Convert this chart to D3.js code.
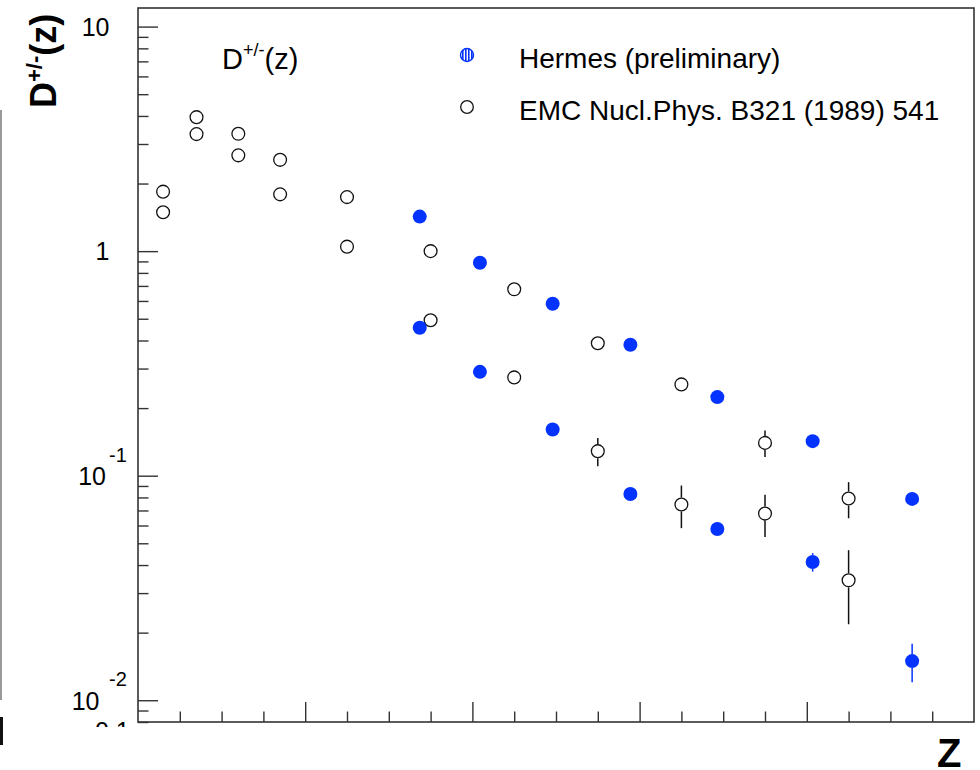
<!DOCTYPE html>
<html>
<head>
<meta charset="utf-8">
<script src="https://cdn.jsdelivr.net/npm/d3@7"></script>
<style>
  html, body { margin: 0; padding: 0; background: #fff; }
  svg { display: block; font-family: "Liberation Sans", Arial, Helvetica, sans-serif; }
</style>
</head>
<body>
<svg id="chart" width="980" height="770"></svg>
<script>
// ---------------- data ----------------
const zEMC      = [0.03, 0.07, 0.12, 0.17, 0.25, 0.35, 0.45, 0.55, 0.65, 0.75, 0.85];
const emcUpper  = [1.84, 3.95, 3.33, 2.55, 1.74, 1.00, 0.676, 0.389, 0.255, 0.140, 0.0791];
const emcUpperErr = [0, 0, 0, 0, 0, 0, 0, 0, 0.008, 0.019, 0.0145];
const emcLower  = [1.49, 3.32, 2.67, 1.79, 1.047, 0.492, 0.274, 0.1286, 0.0744, 0.0678, 0.0342];
const emcLowerErr = [0, 0, 0, 0, 0, 0, 0.008, 0.0185, 0.016, 0.0145, 0.0124];

const zHermes      = [0.337, 0.409, 0.496, 0.589, 0.693, 0.807, 0.926];
const hermesUpper  = [1.425, 0.888, 0.583, 0.383, 0.2239, 0.1425, 0.0788];
const hermesUpperErr = [0, 0, 0, 0, 0, 0, 0];
const hermesLower  = [0.456, 0.290, 0.1607, 0.0829, 0.0579, 0.0413, 0.01494];
const hermesLowerErr = [0, 0, 0, 0, 0, 0.0039, 0.0029];

const yMajorTicks = [0.01, 0.1, 1, 10];
const yTickLabels = [
  {v: 10,   base: "10", exp: null},
  {v: 1,    base: "1",  exp: null},
  {v: 0.1,  base: "10", exp: "-1"},
  {v: 0.01, base: "10", exp: "-2"}
];
const xMajorTicks = [0.2, 0.4, 0.6, 0.8];
const xMinorTicks = [0.05, 0.1, 0.15, 0.25, 0.3, 0.35, 0.45, 0.5, 0.55, 0.65, 0.7, 0.75, 0.85, 0.9, 0.95];

const legendEntries = [
  {label: "Hermes (preliminary)", kind: "hermes"},
  {label: "EMC Nucl.Phys. B321 (1989) 541", kind: "emc"}
];

// ---------------- layout ----------------
const L = 138, R = 974, T = 8, B = 722;
const BLUE = "#0433ff";
const svg = d3.select("#chart");

const x = d3.scaleLinear().domain([0, 1]).range([L, R]);
const y = d3.scaleLog().domain([0.008, 12.1]).range([B, T]);

// left-edge artifacts of neighbouring panel
svg.append("line").attr("x1", 1).attr("x2", 1).attr("y1", 110).attr("y2", 700)
  .attr("stroke", "#777").attr("stroke-width", 1.5);
svg.append("rect").attr("x", 0).attr("y", 717).attr("width", 3).attr("height", 28).attr("fill", "#111");

// clipped partial label at bottom-left
svg.append("clipPath").attr("id", "clipBottom")
  .append("rect").attr("x", 0).attr("y", 0).attr("width", 980).attr("height", 727);
svg.append("text").attr("x", 95).attr("y", 740).attr("font-size", 25).attr("fill", "#000")
  .attr("clip-path", "url(#clipBottom)").text("0.1");

// ---------------- axes ----------------
const yMinor = y.ticks().filter(v => !yMajorTicks.some(m => Math.abs(m - v) / m < 1e-6));
const axStyle = g => {
  g.select(".domain").remove();
  g.selectAll(".tick line").attr("stroke", "#333").attr("stroke-width", 1.4);
  g.selectAll(".tick text").remove();
};
svg.append("g").attr("transform", `translate(${L},0)`)
  .call(d3.axisRight(y).tickValues(yMinor).tickSize(10.5).tickFormat(""))
  .call(axStyle);
svg.append("g").attr("transform", `translate(${L},0)`)
  .call(d3.axisRight(y).tickValues(yMajorTicks).tickSize(20).tickFormat(""))
  .call(axStyle);
svg.append("g").attr("transform", `translate(0,${B})`)
  .call(d3.axisTop(x).tickValues(xMinorTicks).tickSize(10.5).tickFormat(""))
  .call(axStyle);
svg.append("g").attr("transform", `translate(0,${B})`)
  .call(d3.axisTop(x).tickValues(xMajorTicks).tickSize(20).tickFormat(""))
  .call(axStyle);

// frame
svg.append("rect").attr("x", L).attr("y", T).attr("width", R - L).attr("height", B - T)
  .attr("fill", "none").attr("stroke", "#333").attr("stroke-width", 1.6);

// y tick labels
yTickLabels.forEach(t => {
  const yy = y(t.v);
  if (t.exp === null) {
    svg.append("text").attr("x", 109.5).attr("y", yy + 9).attr("text-anchor", "end")
      .attr("font-size", 25).text(t.base);
  } else {
    const baseEnd = t.exp === "-1" ? 106 : 99.5;
    svg.append("text").attr("x", baseEnd).attr("y", yy + 9.5).attr("text-anchor", "end")
      .attr("font-size", 25).text(t.base);
    svg.append("text").attr("x", 109).attr("y", yy - 14).attr("font-size", 20).text(t.exp);
  }
});

// y axis title
const yt = svg.append("text").attr("transform", "translate(56,108) rotate(-90)")
  .attr("font-size", 36).attr("font-weight", "bold");
yt.append("tspan").text("D");
yt.append("tspan").attr("font-size", 22).attr("dy", -14).text("+/-");
yt.append("tspan").attr("dy", 14).text("(z)");

// x axis title
svg.append("text").attr("x", 937).attr("y", 767).attr("font-size", 40).attr("font-weight", "bold").text("Z");

// in-plot title
const tt = svg.append("text").attr("x", 222).attr("y", 69).attr("font-size", 29);
tt.append("tspan").text("D");
tt.append("tspan").attr("font-size", 18).attr("dy", -13).text("+/-");
tt.append("tspan").attr("dy", 13).text("(z)");

// ---------------- data marks ----------------
const R_MARK = 7;
function errorBars(zs, vs, es, color) {
  const g = svg.append("g").attr("stroke", color).attr("stroke-width", 1.5);
  zs.forEach((z, i) => {
    const e = es[i];
    if (!e) return;
    const cx = x(z), cy = y(vs[i]);
    const yHi = y(vs[i] + e), yLo = y(vs[i] - e);
    if (yHi < cy - R_MARK) g.append("line").attr("x1", cx).attr("x2", cx).attr("y1", yHi).attr("y2", cy - R_MARK);
    if (yLo > cy + R_MARK) g.append("line").attr("x1", cx).attr("x2", cx).attr("y1", cy + R_MARK).attr("y2", yLo);
  });
}
function openCircles(zs, vs) {
  svg.append("g").selectAll("circle").data(zs).join("circle")
    .attr("cx", d => x(d)).attr("cy", (d, i) => y(vs[i])).attr("r", R_MARK - 0.6)
    .attr("fill", "none").attr("stroke", "#111").attr("stroke-width", 1.3);
}
function filledCircles(zs, vs) {
  svg.append("g").selectAll("circle").data(zs).join("circle")
    .attr("cx", d => x(d)).attr("cy", (d, i) => y(vs[i])).attr("r", R_MARK)
    .attr("fill", BLUE);
}

errorBars(zEMC, emcUpper, emcUpperErr, "#111");
errorBars(zEMC, emcLower, emcLowerErr, "#111");
openCircles(zEMC, emcUpper);
openCircles(zEMC, emcLower);

errorBars(zHermes, hermesUpper, hermesUpperErr, BLUE);
errorBars(zHermes, hermesLower, hermesLowerErr, BLUE);
filledCircles(zHermes, hermesUpper);
filledCircles(zHermes, hermesLower);

// ---------------- legend ----------------
const defs = svg.append("defs");
const pat = defs.append("pattern").attr("id", "hatch").attr("patternUnits", "userSpaceOnUse")
  .attr("width", 3).attr("height", 3);
pat.append("rect").attr("width", 3).attr("height", 3).attr("fill", "#fff");
pat.append("rect").attr("width", 1.6).attr("height", 3).attr("fill", BLUE);

legendEntries.forEach((d, i) => {
  const ly = 55 + i * 52;
  if (d.kind === "hermes") {
    svg.append("circle").attr("cx", 467).attr("cy", ly).attr("r", 6.5)
      .attr("fill", "url(#hatch)").attr("stroke", BLUE).attr("stroke-width", 1.4);
  } else {
    svg.append("circle").attr("cx", 467).attr("cy", ly).attr("r", 6.3)
      .attr("fill", "none").attr("stroke", "#111").attr("stroke-width", 1.3);
  }
  svg.append("text").attr("x", 519).attr("y", ly + 13).attr("font-size", 28).text(d.label);
});
</script>
</body>
</html>
